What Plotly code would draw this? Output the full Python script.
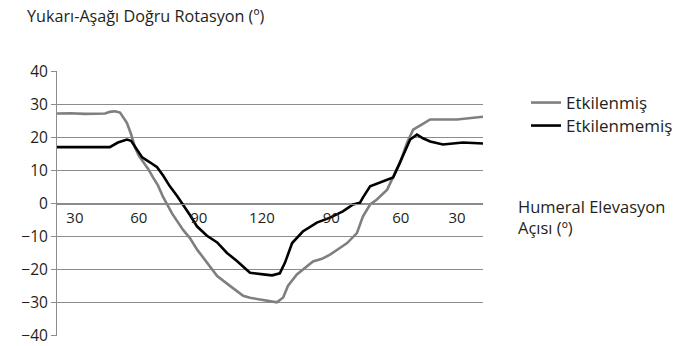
import plotly.graph_objects as go

# Position along the elevation/lowering cycle (0-100) and rotation in degrees
x_etkilenmis = [0, 3.1, 6.6, 11.3, 12.4, 13.6, 14.8, 15.7, 16.4, 17.4, 18.3, 19.2, 20.2, 21.4,
                22.5, 23.7, 24.9, 27.0, 29.6, 31.2, 32.9, 35.2, 37.6, 40.6, 43.7, 45.3, 48.4,
                51.6, 53.1, 54.2, 56.3, 58.2, 60.1, 62.2, 64.1, 66.4, 68.1, 70.4, 71.8, 73.5,
                75.1, 77.5, 78.9, 80.5, 82.2, 83.6, 85.7, 87.6, 93.9, 100]
y_etkilenmis = [27.3, 27.4, 27.2, 27.3, 27.8, 28.0, 27.6, 26.0, 24.5, 21.0, 17.0, 14.5, 12.7, 10.5,
                8.0, 5.5, 2.0, -3.0, -8.0, -10.5, -14.0, -18.0, -22.0, -25.0, -28.0, -28.6, -29.4,
                -30.0, -28.5, -25.0, -21.5, -19.5, -17.6, -16.8, -15.5, -13.5, -12.0, -9.0, -4.0, -0.3,
                1.2, 4.2, 7.9, 12.4, 18.5, 22.4, 24.0, 25.5, 25.5, 26.3]

x_etkilenmemis = [0, 5.4, 12.4, 14.3, 16.4, 17.4, 18.3, 20.0, 21.8, 23.5, 24.9, 26.5, 28.2, 29.6,
                  31.2, 32.9, 35.2, 37.6, 39.9, 42.3, 45.3, 48.4, 50.5, 52.3, 53.5, 55.2, 57.7,
                  61.0, 64.1, 67.1, 69.5, 71.1, 71.8, 73.5, 75.8, 78.9, 80.5, 82.9, 84.5, 85.9,
                  87.6, 90.6, 95.3, 100]
y_etkilenmemis = [17.1, 17.1, 17.1, 18.5, 19.4, 19.0, 17.2, 14.0, 12.5, 11.0, 8.5, 5.2, 2.3, -0.3,
                  -3.5, -7.0, -9.8, -11.8, -15.0, -17.5, -21.0, -21.5, -21.8, -21.2, -18.0, -12.0, -8.5,
                  -5.8, -4.3, -2.4, -0.3, 0.2, 1.8, 5.2, 6.3, 7.9, 12.4, 19.4, 20.9, 19.8,
                  18.8, 17.9, 18.5, 18.2]

# Humeral elevation angle labels along the cycle
tick_pos = [4.2, 19.2, 33.3, 48.1, 64.4, 80.7, 93.9]
tick_text = ["30", "60", "90", "120", "90", "60", "30"]

FONT = "Open Sans"
TEXT = "#231f20"
GRID = "#8c8c8c"

# plot area geometry (px)
L, R, T, B = 57, 203, 71, 10
W, H = 686, 346
PW, PH = W - L - R, H - T - B


def px_x(px):
    return (px - L) / PW


def px_y(py):
    return (H - B - py) / PH


fig = go.Figure()
fig.add_trace(go.Scatter(x=x_etkilenmis, y=y_etkilenmis, mode="lines", name="Etkilenmiş",
                         line=dict(color="#7f7f7f", width=2.6), legend="legend"))
fig.add_trace(go.Scatter(x=x_etkilenmemis, y=y_etkilenmemis, mode="lines", name="Etkilenmemiş",
                         line=dict(color="#000000", width=2.6), legend="legend2"))

legend_style = dict(xanchor="left", yanchor="middle", font=dict(size=17, color=TEXT),
                    bgcolor="rgba(0,0,0,0)", borderwidth=0)

fig.update_layout(
    width=W, height=H,
    margin=dict(l=L, r=R, t=T, b=B, autoexpand=False),
    paper_bgcolor="white", plot_bgcolor="white",
    font=dict(family=FONT, color=TEXT, size=16),
    xaxis=dict(range=[0, 100], tickmode="array", tickvals=tick_pos, ticktext=tick_text,
               anchor="free", position=0.5, showline=True, linecolor=GRID, linewidth=1,
               showgrid=False, zeroline=False, ticks="", automargin=False,
               tickfont=dict(size=15, color=TEXT)),
    yaxis=dict(range=[-40.2, 40.2], tickvals=[-40, -30, -20, -10, 0, 10, 20, 30, 40],
               showgrid=True, gridcolor=GRID, gridwidth=1, ticklabeloverflow="allow",
               zeroline=False, showline=True, linecolor=GRID, linewidth=1, automargin=False,
               ticks="outside", ticklen=5, tickcolor=GRID, tickfont=dict(size=15.5, color=TEXT)),
    legend=dict(x=px_x(526), y=px_y(103), **legend_style),
    legend2=dict(x=px_x(526), y=px_y(126), **legend_style),
    showlegend=True,
)

fig.add_annotation(text="Yukarı-Aşağı Doğru Rotasyon (º)", xref="paper", yref="paper",
                   x=px_x(266), xanchor="right", y=px_y(16), yanchor="middle",
                   showarrow=False, font=dict(size=16.2, color=TEXT))

fig.add_annotation(text="Humeral Elevasyon<br>Açısı (º)", xref="paper", yref="paper",
                   x=px_x(516), xanchor="left", y=px_y(217), yanchor="middle",
                   align="left", showarrow=False, font=dict(size=16.5, color=TEXT))

fig.write_html("out.html")
